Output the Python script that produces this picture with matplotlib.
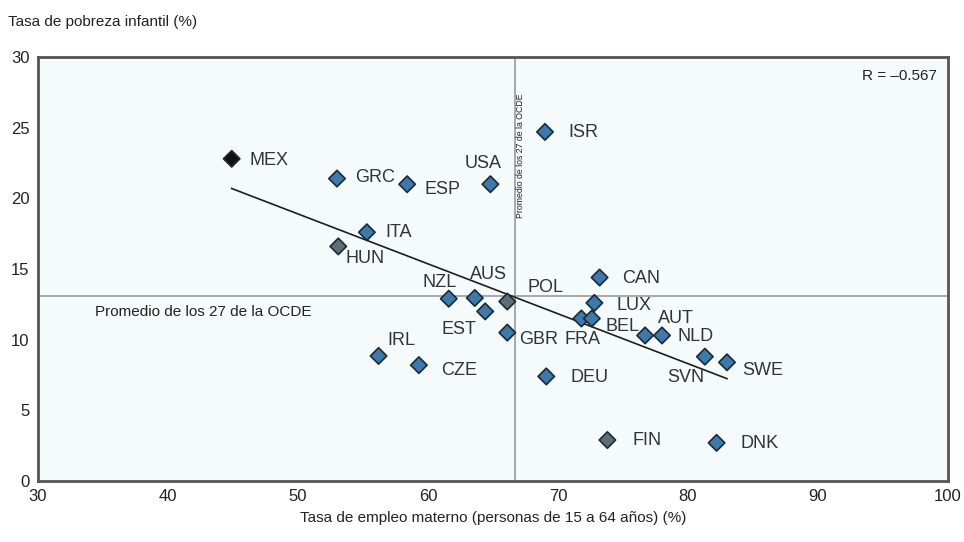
import matplotlib
import numpy as np

matplotlib.use("Agg")
import matplotlib.pyplot as plt  # noqa: E402

plt.rcParams["font.family"] = ["Liberation Sans", "DejaVu Sans"]

# --------------------------------------------------------------------------- #
# Data
# --------------------------------------------------------------------------- #
countries = ["MEX", "GRC", "ESP", "USA", "ISR", "ITA", "HUN", "NZL", "AUS", "EST",
             "POL", "GBR", "CAN", "LUX", "FRA", "BEL", "AUT", "NLD", "SVN", "SWE",
             "DEU", "CZE", "IRL", "FIN", "DNK"]
maternal_emp = [44.9, 53.0, 58.4, 64.8, 69.0, 55.3, 53.1, 61.6, 63.6, 64.4,
                66.1, 66.1, 73.2, 72.8, 71.8, 72.6, 76.7, 78.0, 81.3, 83.0,
                69.1, 59.3, 56.2, 73.8, 82.2]
child_poverty = [22.8, 21.4, 21.0, 21.0, 24.7, 17.6, 16.6, 12.9, 12.95, 12.0,
                 12.7, 10.5, 14.4, 12.6, 11.5, 11.5, 10.3, 10.3, 8.8, 8.4,
                 7.4, 8.2, 8.85, 2.9, 2.7]
oecd_avg_x = 66.7
oecd_avg_y = 13.1
r_value = -0.567

# label offsets in pixels (dx, dy, ha)
label_pos = {
    "MEX": (18, -2, "left"), "GRC": (18, 1, "left"), "ESP": (17, -5, "left"),
    "USA": (-7, 21, "center"), "ISR": (23, -1, "left"), "ITA": (18, 0, "left"),
    "HUN": (7, -12, "left"), "NZL": (-9, 16, "center"), "AUS": (14, 23, "center"),
    "EST": (-26, -18, "center"), "POL": (20, 14, "left"), "GBR": (12, -7, "left"),
    "CAN": (23, -1, "left"), "LUX": (22, -3, "left"), "FRA": (-17, -21, "left"),
    "BEL": (14, -8, "left"), "AUT": (13, 17, "left"), "NLD": (16, -1, "left"),
    "SVN": (-38, -21, "left"), "SWE": (15, -8, "left"), "DEU": (24, -1, "left"),
    "CZE": (22, -5, "left"), "IRL": (9, 15, "left"), "FIN": (25, 0, "left"),
    "DNK": (24, -1, "left"),
}
black_pts = {"MEX"}
grey_pts = {"FIN", "HUN", "POL"}

# --------------------------------------------------------------------------- #
# Chart
# --------------------------------------------------------------------------- #
fig = plt.figure(figsize=(9.64, 5.42), dpi=100)
ax = fig.add_axes([0.0394, 0.1125, 0.944, 0.7823])
ax.set_facecolor("#f5fafa")
ax.set_xlim(30, 100)
ax.set_ylim(0, 30)

ax.axvline(oecd_avg_x, color="#9a9a9a", lw=1.2, zorder=1)
ax.axhline(oecd_avg_y, color="#9a9a9a", lw=1.2, zorder=1)

x = np.array(maternal_emp)
y = np.array(child_poverty)
slope, intercept = np.polyfit(x, y, 1)
xs = np.array([x.min(), x.max()])
ax.plot(xs, slope * xs + intercept, color="#1e1e1e", lw=1.2, zorder=2)

colors = []
for c in countries:
    if c in black_pts:
        colors.append("#111111")
    elif c in grey_pts:
        colors.append("#5d6f74")
    else:
        colors.append("#3a7aae")
ax.scatter(x, y, marker="D", s=70, c=colors, edgecolors="#1b2a33",
           linewidths=1.2, zorder=3)

for c, xi, yi in zip(countries, x, y):
    dx, dy, ha = label_pos[c]
    ax.annotate(c, (xi, yi), xytext=(dx, dy), textcoords="offset pixels",
                ha=ha, va="center", fontsize=13, color="#333333", zorder=4)

ax.text(34.4, 11.95, "Promedio de los 27 de la OCDE",
        fontsize=11, color="#222222", va="center", ha="left")
ax.text(oecd_avg_x + 0.1, 18.6, "Promedio de los 27 de la OCDE",
        rotation=90, fontsize=6.3, color="#222222", va="bottom", ha="left")
ax.text(0.988, 0.955, f"R = \u2013{abs(r_value):.3f}", transform=ax.transAxes,
        fontsize=11, color="#222222", ha="right", va="center")

for s in ax.spines.values():
    s.set_color("#555555")
    s.set_linewidth(2)
ax.set_xticks(range(30, 101, 10))
ax.set_yticks(range(0, 31, 5))
ax.tick_params(length=0, labelsize=12, colors="#222222", pad=6)
ax.set_xlabel("Tasa de empleo materno (personas de 15 a 64 años) (%)",
              fontsize=11, color="#222222", labelpad=5)
fig.text(8 / 964, 1 - 22 / 542, "Tasa de pobreza infantil (%)", fontsize=11,
         color="#222222", ha="left", va="center")

fig.savefig("out.png", dpi=100)
